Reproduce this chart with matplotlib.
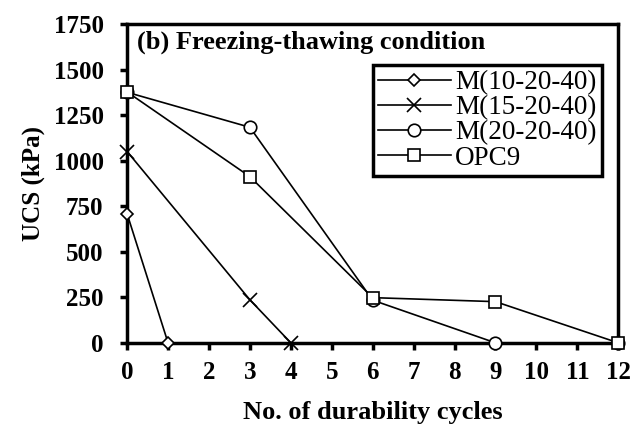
import matplotlib.pyplot as plt

plt.rcParams['font.family'] = ['Liberation Serif', 'DejaVu Serif']

# data
series = ['M(10-20-40)', 'M(15-20-40)', 'M(20-20-40)', 'OPC9']
markers = ['D', 'x', 'o', 's']
msizes = [6, 10, 9, 9]
cycles = [
    [0, 1],
    [0, 3, 4],
    [0, 3, 6, 9, 12],
    [0, 3, 6, 9, 12],
]
ucs = [
    [708, 0],
    [1050, 236, 0],
    [1375, 1183, 234, 0, 0],
    [1377, 912, 248, 226, 0],
]

xticks = list(range(0, 13))
yticks = [0, 250, 500, 750, 1000, 1250, 1500, 1750]

fig = plt.figure(figsize=(6.42, 4.28), dpi=100)
ax = fig.add_axes([0.198, 0.199, 0.765, 0.745])

for name, m, ms, xs, ys in zip(series, markers, msizes, cycles, ucs):
    ax.plot(xs, ys, color='black', lw=1.2, marker=m, ms=ms,
            mfc='white', mec='black', mew=1.2, label=name, clip_on=False, zorder=3)

ax.set_xlim(0, 12)
ax.set_ylim(0, 1750)
ax.set_xticks(xticks)
ax.set_yticks(yticks)
ax.tick_params(direction='out', length=5, width=2.5, labelsize=18)
ax.tick_params(axis='y', pad=12)
ax.tick_params(axis='x', pad=8)
for lab in ax.get_xticklabels() + ax.get_yticklabels():
    lab.set_fontweight('bold')
for sp in ax.spines.values():
    sp.set_linewidth(2.5)

ax.set_xlabel('No. of durability cycles', fontsize=19, fontweight='bold', labelpad=12)
ax.set_ylabel('UCS (kPa)', fontsize=18, fontweight='bold', labelpad=6)

ax.text(0.02, 0.978, '(b) Freezing-thawing condition', transform=ax.transAxes,
        fontsize=19, fontweight='bold', va='top', ha='left')

leg = ax.legend(loc='upper right', bbox_to_anchor=(0.967, 0.871), fontsize=19.5,
                frameon=True, fancybox=False, edgecolor='black', framealpha=1,
                handlelength=2.7, handletextpad=0.15, borderpad=0.2,
                labelspacing=0.0, borderaxespad=0)
leg.get_frame().set_linewidth(2.5)

fig.savefig('out.png', dpi=100)
